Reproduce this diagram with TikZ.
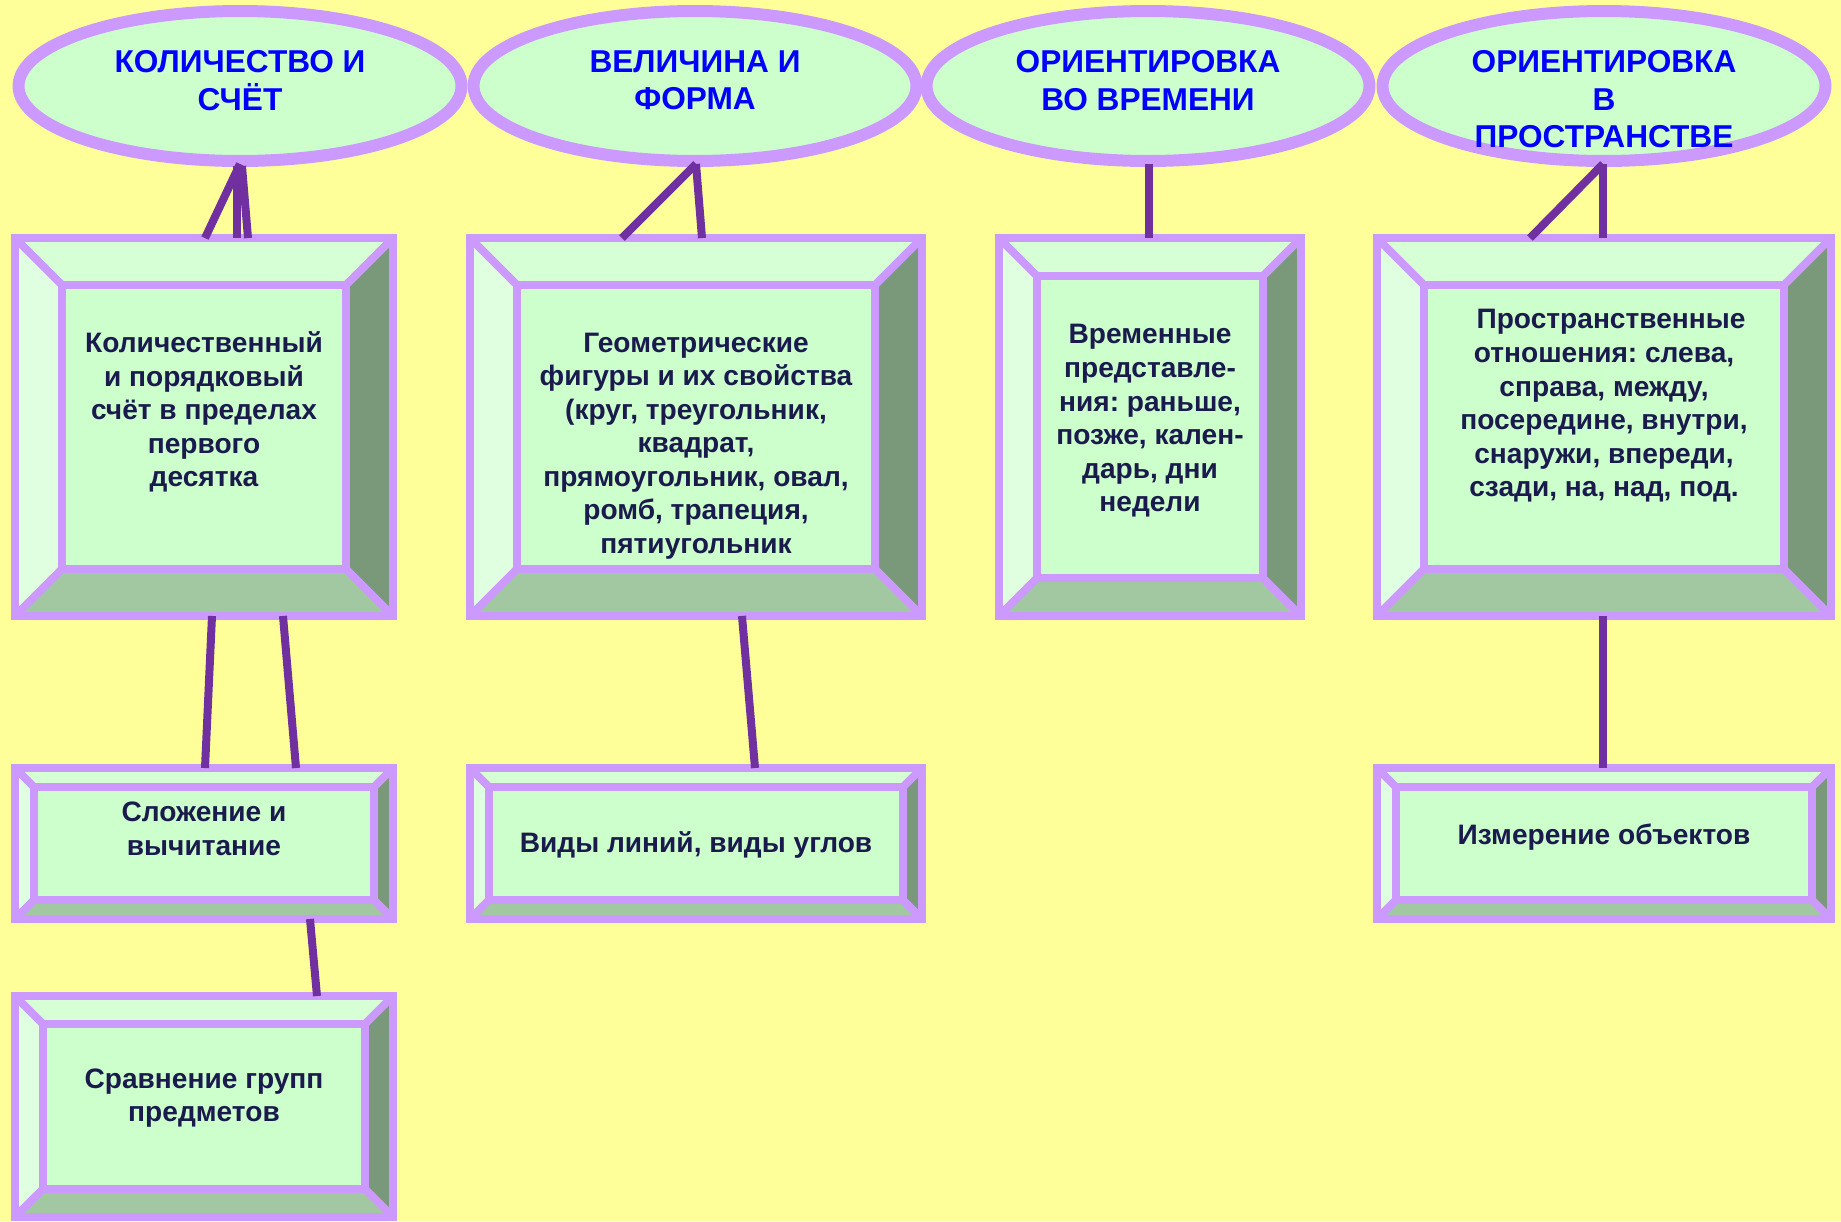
\documentclass[tikz,border=0pt]{standalone}
\usepackage{fontspec}
\setmainfont{Liberation Sans}
\usetikzlibrary{shapes.geometric}
\frenchspacing

\definecolor{bgyellow}{HTML}{FFFF99}
\definecolor{lilac}{HTML}{CC99FF}
\definecolor{facegreen}{HTML}{CCFFCC}
\definecolor{bevtop}{HTML}{D6FFD6}
\definecolor{bevleft}{HTML}{E0FFE0}
\definecolor{bevright}{HTML}{7A987A}
\definecolor{bevbottom}{HTML}{A2C8A2}
\definecolor{linkpurple}{HTML}{7030A0}
\definecolor{titleblue}{HTML}{0000FF}
\definecolor{textnavy}{HTML}{1A1A4D}

% bevel of a box: node name, depth
\newcommand{\bevelframe}[2]{%
  \fill[bevtop] (#1.north west) -- (#1.north east) -- ([shift={(-#2,#2)}]#1.north east) -- ([shift={(#2,#2)}]#1.north west) -- cycle;
  \fill[bevleft] (#1.north west) -- ([shift={(#2,#2)}]#1.north west) -- ([shift={(#2,-#2)}]#1.south west) -- (#1.south west) -- cycle;
  \fill[bevright] (#1.north east) -- ([shift={(-#2,#2)}]#1.north east) -- ([shift={(-#2,-#2)}]#1.south east) -- (#1.south east) -- cycle;
  \fill[bevbottom] (#1.south west) -- ([shift={(#2,-#2)}]#1.south west) -- ([shift={(-#2,-#2)}]#1.south east) -- (#1.south east) -- cycle;
  \draw[frameline] (#1.north west) -- ++(#2,#2) (#1.north east) -- ++(-#2,#2)
    (#1.south west) -- ++(#2,-#2) (#1.south east) -- ++(-#2,-#2);
  \draw[frameline] ([shift={(#2,#2)}]#1.north west) rectangle ([shift={(-#2,-#2)}]#1.south east);
  \draw[frameline] (#1.north west) rectangle (#1.south east);
}

\tikzset{
  frameline/.style={draw=lilac,line width=0.16cm,line join=miter},
  topic/.style={ellipse,draw=lilac,fill=facegreen,line width=0.24cm,
    minimum width=8.86cm,minimum height=3cm,inner sep=0pt,outer sep=0pt},
  box/.style={rectangle,fill=facegreen,inner sep=0pt,outer sep=0pt},
  topictext/.style={anchor=north,align=center,inner sep=0pt,text=titleblue,
    font=\fontsize{18}{21.5}\selectfont\bfseries},
  boxtext/.style={align=center,inner sep=0pt,text=textnavy,
    font=\fontsize{16}{19.1}\selectfont\bfseries},
  link/.style={draw=linkpurple,line width=0.16cm}
}

\begin{document}
\begin{tikzpicture}[x=0.02cm,y=-0.02cm]

  \fill[bgyellow] (0,0) rectangle (1841,1221);
  \useasboundingbox (0,0) rectangle (1841,1221);

  \begin{scope}[every node/.style={topic}]
    \node (k1) at (240,86)  {};
    \node (k2) at (695,86)  {};
    \node (k3) at (1148,86) {};
    \node (k4) at (1604,86) {};
  \end{scope}

  \node[topictext] (kt1) at (240,50)  {КОЛИЧЕСТВО И\\СЧЁТ};
  \node[topictext] (kt2) at (695,50)  {ВЕЛИЧИНА И\\ФОРМА};
  \node[topictext] (kt3) at (1148,50) {ОРИЕНТИРОВКА\\ВО ВРЕМЕНИ};
  \node[topictext] (kt4) at (1604,50) {ОРИЕНТИРОВКА\\В\\ПРОСТРАНСТВЕ};

  \begin{scope}[every node/.style={box}]
    \node[minimum width=7.56cm,minimum height=7.56cm] (b1) at (204,427)  {};
    \node[minimum width=9.04cm,minimum height=7.56cm] (b2) at (696,427)  {};
    \node[minimum width=6.04cm,minimum height=7.56cm] (b3) at (1150,427) {};
    \node[minimum width=9.08cm,minimum height=7.56cm] (b4) at (1604,427) {};
    \node[minimum width=7.56cm,minimum height=3.02cm] (r1) at (204,843.5)  {};
    \node[minimum width=9.04cm,minimum height=3.02cm] (r2) at (696,843.5)  {};
    \node[minimum width=9.08cm,minimum height=3.02cm] (r4) at (1604,843.5) {};
    \node[minimum width=7.56cm,minimum height=4.42cm] (s1) at (204,1106.5) {};
  \end{scope}

  \bevelframe{b1}{47}
  \bevelframe{b2}{47}
  \bevelframe{b3}{38}
  \bevelframe{b4}{47}
  \bevelframe{r1}{19}
  \bevelframe{r2}{19}
  \bevelframe{r4}{19}
  \bevelframe{s1}{28}

  \begin{scope}[every node/.style={boxtext}]
    \node (t1) at (204,412) {Количественный\\и порядковый\\счёт в пределах\\первого\\десятка};
    \node (t2) at (696,446) {Геометрические\\фигуры и их свойства\\(круг, треугольник,\\квадрат,\\прямоугольник, овал,\\ромб, трапеция,\\пятиугольник};
    \node (t3) at (1150,421) {Временные\\представле-\\ния: раньше,\\позже, кален-\\дарь, дни\\недели};
    \node (t4) at (1604,406) {\hspace*{0.5em}Пространственные\\отношения: слева,\\справа, между,\\посередине, внутри,\\снаружи, впереди,\\сзади, на, над, под.};
    \node (u1) at (204,829)  {Сложение и\\вычитание};
    \node (u2) at (696,845)  {Виды линий, виды углов};
    \node (u4) at (1604,837) {Измерение объектов};
    \node (v1) at (204,1098) {Сравнение групп\\предметов};
  \end{scope}

  \begin{scope}[every edge/.style={link}]
    \path ([shift={(0,3)}]k1.south) edge ([shift={(1,0)}]b1.north);
    \path ([shift={(-3,5)}]k1.south) edge ([shift={(33,0)}]b1.north);
    \path ([shift={(2,5)}]k1.south) edge ([shift={(44,0)}]b1.north);
    \path ([shift={(8,0)}]b1.south) edge ([shift={(1,0)}]r1.north);
    \path ([shift={(79,0)}]b1.south) edge ([shift={(92,0)}]r1.north);
    \path ([shift={(106,0)}]r1.south) edge ([shift={(113,0)}]s1.north);
    \path ([shift={(1,3)}]k2.south) edge ([shift={(-74,0)}]b2.north);
    \path ([shift={(1,3)}]k2.south) edge ([shift={(6,0)}]b2.north);
    \path ([shift={(46,0)}]b2.south) edge ([shift={(59,0)}]r2.north);
    \path ([shift={(1,3)}]k3.south) edge ([shift={(-1,0)}]b3.north);
    \path ([shift={(-1,3)}]k4.south) edge ([shift={(-74,0)}]b4.north);
    \path ([shift={(-1,3)}]k4.south) edge ([shift={(-1,0)}]b4.north);
    \path ([shift={(-1,0)}]b4.south) edge ([shift={(-1,0)}]r4.north);
  \end{scope}

\end{tikzpicture}
\end{document}
